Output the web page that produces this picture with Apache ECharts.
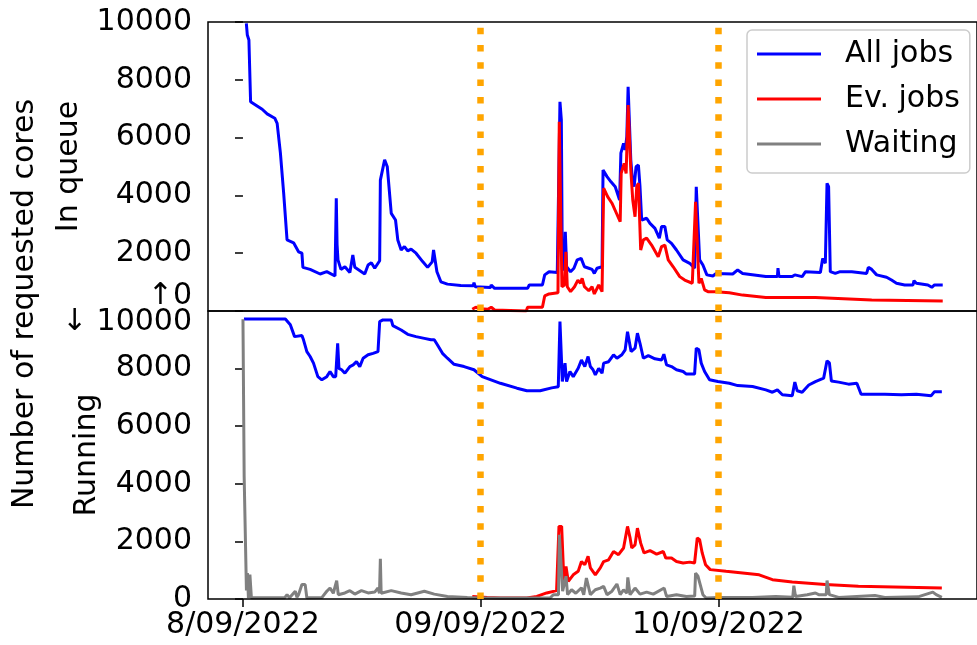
<!DOCTYPE html>
<html>
<head>
<meta charset="utf-8">
<script src="https://cdn.jsdelivr.net/npm/echarts@6/dist/echarts.min.js"></script>
<style>
  html, body { margin: 0; padding: 0; background: #fff; }
  #chart { width: 977px; height: 645px; }
</style>
</head>
<body>
<div id="chart"></div>
<script>
// time axis is hours since 8/09/2022 00:00
const xTickHours = [0, 24, 48];
const xTickLabels = ['8/09/2022', '09/09/2022', '10/09/2022'];
const dayMarks = [24, 48];

// [hour, cores] — requested cores waiting in queue
const queueAll = [
  [0.34, 9950], [0.44, 9550], [0.6, 9380], [0.77, 7240], [1.27, 7130], [1.94, 6980], [2.44, 6820],
  [3.21, 6670], [3.45, 6490], [3.78, 5460], [4.11, 4070], [4.45, 2460], [5.11, 2360], [5.61, 2050],
  [5.95, 2000], [6.05, 1510], [6.78, 1440], [7.79, 1280], [8.46, 1360], [9.29, 1210], [9.36, 1250],
  [9.42, 3900], [9.5, 2300], [9.59, 1770], [9.89, 1440], [10.29, 1530], [10.79, 1330], [10.95, 1330],
  [11.09, 1940], [11.29, 1510], [12.29, 1280], [12.63, 1590], [12.96, 1670], [13.3, 1480], [13.8, 1740],
  [13.87, 4530], [14.3, 5230], [14.57, 4990], [14.97, 3380], [15.4, 3150], [15.63, 2460], [15.97, 2110],
  [16.3, 2230], [16.63, 2080], [16.97, 2140], [17.47, 2000], [18.14, 1710], [18.64, 1510], [19.1, 1700],
  [19.24, 2110], [19.58, 1360], [19.98, 1010], [20.64, 930], [21.98, 880], [23.25, 870], [23.32, 980],
  [23.45, 840], [24.99, 810], [25.06, 900], [25.4, 785], [28.73, 785], [28.9, 900], [30.23, 900],
  [30.46, 1250], [30.9, 1360], [31.73, 1330], [31.9, 1300], [32.0, 7240], [32.14, 6610], [32.24, 1420],
  [32.45, 1500], [32.54, 2740], [32.67, 1530], [33.07, 1360], [33.41, 1480], [33.74, 1770], [34.14, 1820],
  [34.47, 1530], [34.91, 1480], [35.24, 1440], [35.47, 1300], [35.74, 1480], [36.25, 1530], [36.35, 4880],
  [36.75, 4650], [37.15, 4470], [37.58, 4300], [38.02, 3840], [38.15, 5460], [38.42, 5800], [38.58, 5570],
  [38.75, 6030], [38.88, 7760], [39.02, 7760], [39.15, 5230], [39.32, 4530], [39.49, 4300], [39.68, 4990],
  [39.92, 5050], [40.08, 4300], [40.25, 3150], [40.42, 3090], [40.75, 3210], [41.09, 3030], [41.59, 2860],
  [42.03, 2520], [42.26, 2920], [42.59, 2920], [42.83, 2460], [43.26, 2340], [43.76, 2110], [44.43, 1770],
  [45.1, 1650], [45.59, 1480], [45.76, 4300], [45.93, 4300], [46.1, 1770], [46.43, 1590], [46.83, 1250],
  [47.44, 1210], [47.77, 1300], [49.44, 1280], [49.94, 1420], [50.44, 1300], [52.78, 1190], [53.95, 1190],
  [54.01, 1480], [54.11, 1190], [55.45, 1190], [55.71, 1250], [56.45, 1190], [56.79, 1360], [57.79, 1340],
  [58.29, 1330], [58.52, 1820], [58.79, 1650], [58.96, 4420], [59.12, 4300], [59.29, 1360], [59.79, 1300],
  [60.29, 1360], [61.46, 1360], [62.96, 1300], [63.13, 1510], [63.47, 1440], [63.97, 1250], [64.97, 1170],
  [65.47, 1070], [65.97, 960], [66.8, 900], [67.64, 900], [67.74, 1050], [67.98, 960], [69.14, 900],
  [69.54, 820], [69.81, 900], [70.64, 900]
];

const queueEv = [
  [23.15, 60], [23.5, 130], [24.0, 80], [24.72, 60], [25.06, 130], [25.4, 35], [25.5, 0], [28.6, 0],
  [28.73, 130], [30.23, 130], [30.46, 520], [30.9, 590], [31.8, 630], [31.93, 6550], [32.07, 6550],
  [32.2, 840], [32.45, 900], [32.6, 2050], [32.74, 840], [33.07, 670], [33.47, 840], [33.81, 1070],
  [34.07, 960], [34.24, 1130], [34.47, 840], [34.91, 700], [35.24, 840], [35.47, 590], [35.91, 900],
  [36.25, 670], [36.41, 4250], [36.81, 3960], [37.25, 3730], [37.68, 3400], [38.08, 3090], [38.18, 4760],
  [38.48, 5110], [38.68, 4760], [38.88, 7130], [39.02, 7070], [39.15, 4880], [39.35, 3840], [39.58, 3260],
  [39.75, 4300], [39.92, 4420], [40.15, 2110], [40.42, 2460], [40.75, 2520], [41.25, 2280], [41.92, 1880],
  [42.26, 2230], [42.59, 2280], [42.93, 1770], [43.43, 1530], [44.09, 1190], [44.59, 1070], [45.36, 960],
  [45.69, 3780], [45.86, 3780], [46.03, 960], [46.26, 1130], [46.6, 730], [46.94, 670], [47.77, 670],
  [49.1, 630], [50.44, 550], [52.78, 470], [57.79, 470], [63.47, 380], [70.64, 350]
];

// [hour, cores] — requested cores running
const runAll = [
  [0.1, 9720], [4.28, 9720], [4.78, 9520], [5.21, 9110], [5.95, 9150], [6.11, 9000], [6.45, 8590],
  [6.78, 8420], [7.12, 8190], [7.56, 7720], [7.96, 7610], [8.46, 7720], [8.79, 7900], [9.12, 7720],
  [9.36, 7720], [9.56, 8880], [9.69, 8010], [9.96, 7960], [10.29, 7840], [10.79, 8070], [11.13, 8130],
  [11.46, 8240], [11.79, 8070], [12.13, 8360], [12.63, 8480], [13.13, 8530], [13.63, 8590], [13.8, 9630],
  [14.13, 9690], [14.97, 9690], [15.13, 9490], [15.97, 9340], [16.63, 9190], [17.47, 9110], [18.31, 9050],
  [18.98, 9000], [19.31, 9000], [19.64, 8820], [20.14, 8530], [20.64, 8360], [21.31, 8150], [22.32, 8070],
  [23.32, 7960], [24.15, 7720], [25.99, 7490], [27.66, 7320], [28.66, 7230], [30.0, 7230], [31.16, 7330],
  [31.83, 7370], [32.0, 9630], [32.14, 9630], [32.24, 7550], [32.51, 8190], [32.67, 7550], [33.01, 7900],
  [33.34, 7720], [33.84, 8010], [34.17, 8300], [34.51, 8070], [34.84, 8420], [35.07, 8070], [35.34, 7960],
  [35.57, 7780], [35.91, 8010], [36.25, 7840], [36.41, 8190], [36.91, 8240], [37.41, 8480], [37.75, 8360],
  [38.25, 8480], [38.58, 8650], [38.82, 9280], [38.98, 9280], [39.18, 8590], [39.58, 8710], [39.82, 9230],
  [40.08, 8880], [40.42, 8360], [40.92, 8450], [41.59, 8340], [42.26, 8300], [42.49, 8500], [42.76, 8130],
  [43.26, 8070], [43.76, 7960], [44.43, 7900], [44.76, 7810], [45.59, 7810], [45.76, 8710], [46.03, 8650],
  [46.26, 8190], [46.6, 7900], [47.1, 7610], [47.94, 7550], [49.1, 7490], [49.94, 7410], [51.44, 7380],
  [52.78, 7260], [53.45, 7180], [53.95, 7260], [54.45, 7090], [55.45, 7060], [55.71, 7530], [55.95, 7230],
  [56.45, 7180], [57.12, 7430], [57.79, 7550], [58.62, 7670], [58.96, 8270], [59.2, 8200], [59.4, 7570],
  [60.13, 7530], [61.13, 7460], [61.97, 7490], [62.4, 7110], [64.8, 7110], [66.47, 7090], [67.98, 7110],
  [69.48, 7060], [69.81, 7200], [70.55, 7200]
];

const runEv = [
  [23.15, 90], [24.65, 55], [25.99, 35], [28.66, 35], [29.66, 90], [30.66, 210], [31.66, 290],
  [31.9, 2520], [32.17, 2520], [32.41, 500], [32.61, 1130], [32.84, 610], [33.34, 840], [33.84, 960],
  [34.17, 1300], [34.51, 1190], [34.84, 1480], [35.07, 1080], [35.57, 840], [36.07, 1080], [36.41, 1300],
  [36.91, 1360], [37.41, 1650], [37.91, 1540], [38.42, 1770], [38.82, 2520], [39.08, 2120], [39.25, 1770],
  [39.58, 1880], [39.82, 2460], [40.15, 1940], [40.49, 1600], [41.09, 1680], [41.76, 1560], [42.43, 1650],
  [42.69, 1420], [43.26, 1420], [43.76, 1300], [44.43, 1250], [45.1, 1280], [45.59, 1250], [45.86, 2120],
  [46.1, 2060], [46.36, 1600], [46.7, 1190], [47.17, 1020], [48.77, 960], [52.11, 840], [53.45, 670],
  [55.45, 590], [58.79, 500], [62.13, 440], [68.14, 400], [70.55, 380]
];

const waiting = [
  [0, 9710], [0.12, 4250], [0.35, 300], [0.45, 900], [0.55, 40], [0.7, 850], [0.85, 40], [4.2, 40],
  [4.45, 150], [4.7, 40], [5.28, 270], [5.45, 60], [5.61, 150], [5.95, 500], [6.28, 500], [6.45, 40],
  [7.96, 50], [8.46, 270], [8.79, 380], [9.12, 200], [9.46, 640], [9.62, 150], [10.29, 210], [10.79, 290],
  [11.29, 170], [11.96, 290], [12.63, 210], [13.3, 240], [13.63, 380], [13.78, 200], [13.87, 1400],
  [13.95, 200], [14.03, 150], [14.97, 290], [15.97, 210], [16.97, 150], [18.31, 270], [19.31, 170],
  [20.64, 90], [22.65, 55], [23.99, 35], [31.0, 35], [31.33, 150], [31.85, 150], [31.94, 2230],
  [32.07, 2230], [32.27, 270], [32.61, 790], [32.77, 150], [33.17, 320], [33.6, 200], [34.17, 390],
  [34.4, 150], [34.67, 730], [35.07, 150], [35.57, 320], [36.07, 380], [36.41, 440], [36.75, 150],
  [37.25, 270], [37.75, 520], [38.08, 150], [38.42, 320], [38.75, 200], [38.85, 750], [39.08, 150],
  [39.58, 380], [40.08, 170], [40.75, 240], [41.42, 170], [42.52, 380], [42.76, 90], [43.76, 150],
  [44.76, 90], [45.6, 100], [45.69, 900], [45.93, 790], [46.16, 500], [46.43, 150], [46.76, 35],
  [48.1, 55], [51.44, 55], [53.78, 90], [55.5, 60], [55.61, 460], [55.78, 90], [56.96, 150],
  [57.79, 210], [58.12, 150], [58.88, 150], [58.96, 640], [59.2, 150], [60.13, 55], [63.8, 120],
  [64.8, 55], [68.14, 75], [69.64, 240], [69.98, 150], [70.55, 55]
];

const FONT = 'DejaVu Sans';
const X_MIN = -3.53;
const X_MAX = 74.1;
const BLUE = '#0000ff';
const RED = '#ff0000';
const GRAY = '#808080';

const chart = echarts.init(document.getElementById('chart'), null, { renderer: 'canvas' });

const tickStyle = { show: true, length: 8, lineStyle: { color: '#000', width: 1.5 } };
const labelStyle = { fontSize: 30, fontFamily: FONT, color: '#000' };

const dayLines = {
  silent: true,
  symbol: ['none', 'none'],
  label: { show: false },
  lineStyle: { color: '#ffa500', width: 6.5, type: [6.5, 10.8], cap: 'butt' },
  emphasis: { disabled: true },
  data: dayMarks.map((h) => ({ xAxis: h })),
};

const lineSeries = (name, data, color, idx, extra) => ({
  name,
  type: 'line',
  xAxisIndex: idx,
  yAxisIndex: idx,
  data,
  symbol: 'none',
  showSymbol: false,
  lineStyle: { color, width: 3 },
  itemStyle: { color },
  emphasis: { disabled: true },
  ...extra,
});

chart.setOption({
  animation: false,
  backgroundColor: '#fff',
  textStyle: { fontFamily: FONT },
  grid: [
    { left: 208, top: 22, width: 775, height: 289, show: true, borderColor: '#000', borderWidth: 1.5, z: 5 },
    { left: 208, top: 311, width: 775, height: 288, show: true, borderColor: '#000', borderWidth: 1.5, z: 5 },
  ],
  xAxis: [
    {
      gridIndex: 0, type: 'value', min: X_MIN, max: X_MAX,
      axisLine: { show: false }, axisTick: { show: false }, axisLabel: { show: false }, splitLine: { show: false },
    },
    {
      gridIndex: 1, type: 'value', min: X_MIN, max: X_MAX,
      axisLine: { show: false },
      axisTick: { ...tickStyle, customValues: xTickHours },
      axisLabel: {
        ...labelStyle, margin: 11, customValues: xTickHours,
        formatter: (v) => xTickLabels[xTickHours.indexOf(v)] ?? '',
      },
      splitLine: { show: false },
    },
  ],
  yAxis: [
    {
      gridIndex: 0, type: 'value', min: 0, max: 10000, interval: 2000,
      name: 'In queue', nameLocation: 'middle', nameGap: 124, nameMoveOverlap: false, nameTextStyle: labelStyle,
      axisLine: { show: false }, axisTick: tickStyle, splitLine: { show: false },
      axisLabel: { ...labelStyle, margin: 16, lineHeight: 30, formatter: (v) => (v === 0 ? '↑0\n' : String(v)) },
    },
    {
      gridIndex: 1, type: 'value', min: 0, max: 10000, interval: 2000,
      name: 'Running', nameLocation: 'middle', nameGap: 106, nameMoveOverlap: false, nameTextStyle: labelStyle,
      axisLine: { show: false }, axisTick: tickStyle, splitLine: { show: false },
      axisLabel: { ...labelStyle, margin: 16, lineHeight: 22, formatter: (v) => (v === 10000 ? '\n↓ 10000' : String(v)) },
    },
  ],
  legend: {
    data: ['All jobs', 'Ev. jobs', 'Waiting'],
    orient: 'vertical',
    left: 747,
    top: 30,
    padding: [7, 10, 12, 10],
    icon: 'rect',
    itemWidth: 64,
    itemHeight: 3,
    itemGap: 11,
    backgroundColor: 'rgba(255,255,255,0.8)',
    borderColor: '#cccccc',
    borderWidth: 1.5,
    borderRadius: 5,
    selectedMode: false,
    textStyle: { ...labelStyle, lineHeight: 34, padding: [0, 0, 0, 19] },
  },
  graphic: [
    {
      type: 'text',
      x: 25,
      y: 304,
      rotation: Math.PI / 2,
      style: {
        text: 'Number of requested cores',
        font: `30px "${FONT}"`,
        fill: '#000',
        align: 'center',
        verticalAlign: 'middle',
      },
    },
  ],
  series: [
    lineSeries('All jobs', queueAll, BLUE, 0),
    lineSeries('Ev. jobs', queueEv, RED, 0, { markLine: dayLines }),
    lineSeries('All jobs', runAll, BLUE, 1),
    lineSeries('Ev. jobs', runEv, RED, 1),
    lineSeries('Waiting', waiting, GRAY, 1, { markLine: dayLines }),
  ],
});
</script>
</body>
</html>
